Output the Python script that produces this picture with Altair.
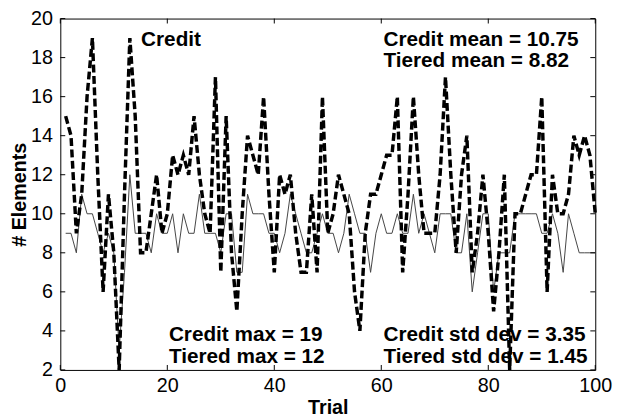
import altair as alt
import pandas as pd

# ---------------- data ----------------
trials = list(range(1, 101))

credit = [15, 14, 9, 11, 16, 19, 12, 6, 11, 8,
          2, 11, 19, 15, 8, 8, 10, 12, 9, 10,
          13, 12, 13, 12, 15, 12, 10, 9, 17, 7,
          15, 8, 5, 10, 14, 13, 12, 16, 11, 7,
          12, 11, 12, 9, 7, 7, 11, 7, 16, 9,
          10, 12, 11, 10, 6, 4, 9, 11, 11, 12,
          13, 13, 16, 7, 11, 16, 12, 9, 9, 9,
          12, 17, 12, 8, 12, 14, 7, 9, 12, 9,
          5, 8, 12, 2, 10, 10, 11, 12, 12, 16,
          6, 12, 10, 10, 11, 14, 13, 14, 13, 10]

tiered = [9, 9, 8, 11, 10, 10, 9, 8, 9, 8,
          3, 7, 12, 9, 9, 9, 8, 10, 9, 9,
          10, 8, 10, 9, 9, 11, 9, 9, 9, 8,
          10, 10, 7, 7, 11, 10, 10, 10, 9, 9,
          8, 9, 11, 10, 9, 8, 8, 9, 10, 9,
          9, 8, 9, 11, 10, 9, 9, 7, 9, 10,
          9, 9, 10, 9, 9, 11, 9, 10, 9, 8,
          10, 10, 10, 8, 8, 10, 6, 8, 10, 10,
          6, 8, 8, 8, 10, 10, 10, 10, 10, 9,
          9, 10, 9, 7, 10, 9, 8, 8, 8, 8]

x_ticks = [0, 20, 40, 60, 80, 100]
y_ticks = [2, 4, 6, 8, 10, 12, 14, 16, 18, 20]

note_texts = ["Credit", "Credit mean = 10.75", "Tiered mean = 8.82",
              "Credit max = 19", "Tiered max = 12",
              "Credit std dev = 3.35", "Tiered std dev = 1.45"]
note_x = [15.1, 60.4, 60.4, 20.3, 20.3, 60.4, 60.4]
note_y = [18.62, 18.62, 17.52, 3.46, 2.36, 3.46, 2.36]

# ---------------- tables ----------------
credit_df = pd.DataFrame({"x": trials, "y": credit})
tiered_df = pd.DataFrame({"x": trials, "y": tiered})
xt_df = pd.DataFrame({"x": x_ticks})
yt_df = pd.DataFrame({"y": y_ticks})
notes_df = pd.DataFrame({"x": note_x, "y": note_y, "label": note_texts})

FONT = "Liberation Sans"
W, H = 542, 356

xs = alt.Scale(domain=[0, 100], nice=False, zero=False)
ys = alt.Scale(domain=[2, 20], nice=False, zero=False)

x_axis = alt.Axis(values=x_ticks, title="Trial", labelFont=FONT, labelFontSize=20,
                  labelColor="black", labelPadding=6, labelFlush=False,
                  ticks=False, tickSize=0, domain=False, grid=False,
                  titleFont=FONT, titleFontSize=20, titleFontWeight="bold",
                  titleColor="black", titlePadding=2)
y_axis = alt.Axis(values=y_ticks, title="# Elements", labelFont=FONT, labelFontSize=20,
                  labelColor="black", labelPadding=8, labelFlush=False,
                  ticks=False, tickSize=0, domain=False, grid=False,
                  titleFont=FONT, titleFontSize=20, titleFontWeight="bold",
                  titleColor="black", titlePadding=1)

X = alt.X("x:Q", scale=xs, axis=x_axis)
Y = alt.Y("y:Q", scale=ys, axis=y_axis)

tiered_line = alt.Chart(tiered_df).mark_line(color="#444444", strokeWidth=1).encode(x=X, y=Y)
credit_line = alt.Chart(credit_df).mark_line(
    color="black", strokeWidth=3.5, strokeDash=[8, 3.5]).encode(x=X, y=Y)

tick_bottom = alt.Chart(xt_df).mark_rule(color="black", strokeWidth=1).encode(
    x=X, y=alt.value(H), y2=alt.value(H - 5))
tick_top = alt.Chart(xt_df).mark_rule(color="black", strokeWidth=1).encode(
    x=X, y=alt.value(0), y2=alt.value(5))
tick_left = alt.Chart(yt_df).mark_rule(color="black", strokeWidth=1).encode(
    y=Y, x=alt.value(0), x2=alt.value(5))
tick_right = alt.Chart(yt_df).mark_rule(color="black", strokeWidth=1).encode(
    y=Y, x=alt.value(W), x2=alt.value(W - 5))

notes = alt.Chart(notes_df).mark_text(
    align="left", baseline="alphabetic", font=FONT, fontSize=21,
    fontWeight="bold", color="black").encode(x=X, y=Y, text="label:N")

chart = alt.layer(
    tiered_line, credit_line, tick_bottom, tick_top, tick_left, tick_right, notes
).properties(
    width=W, height=H,
    padding={"left": 53, "top": 8, "right": 20, "bottom": 46},
    autosize=alt.AutoSizeParams(type="none"),
    background="white",
).configure_view(stroke="black", strokeWidth=1)

chart.save("out.html", embed_options={"renderer": "svg", "actions": False})
